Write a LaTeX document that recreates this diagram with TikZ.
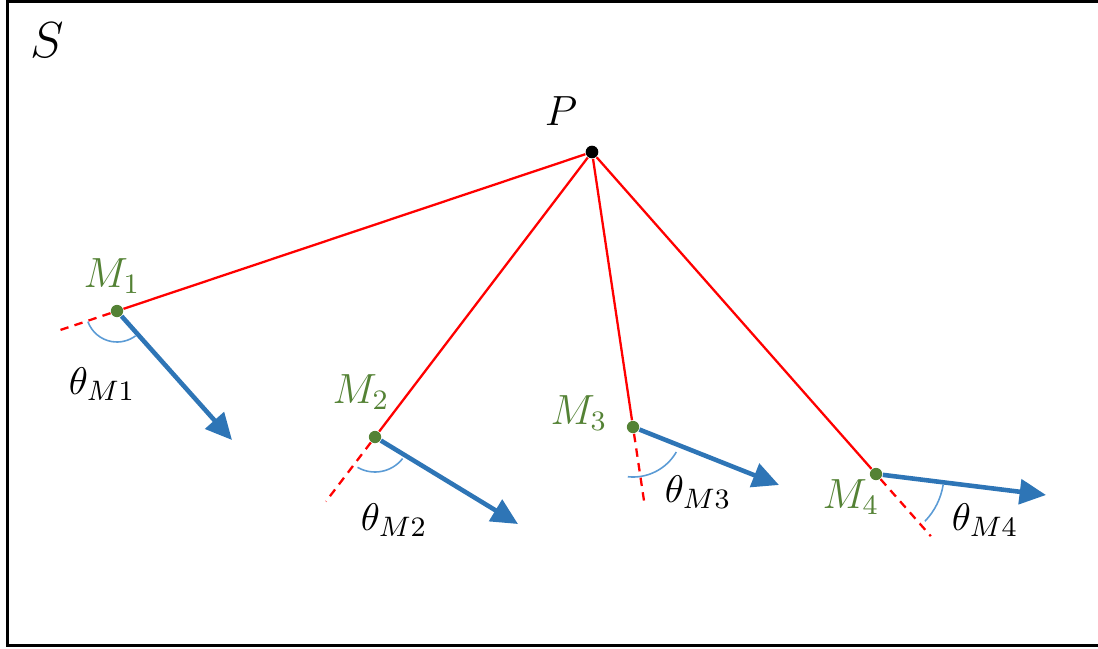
\documentclass[tikz,border=0pt]{standalone}
\usepackage{amsmath}
\usepackage{xcolor}
\usepackage{tikz}
\usetikzlibrary{arrows.meta,calc}
\definecolor{pred}{HTML}{FF0000}
\definecolor{pgreen}{HTML}{548235}
\definecolor{pblue}{HTML}{2E75B6}
\definecolor{parc}{HTML}{5B9BD5}
\tikzset{
  pray/.style={pred, line width=0.65pt},
  pext/.style={pred, line width=0.65pt, dash pattern=on 2.4pt off 1.8pt},
  pvel/.style={pblue, line width=1.3pt, -{Triangle[length=7.5pt,width=7pt]}},
  parcs/.style={parc, line width=0.45pt},
  pdot/.style={circle, fill=pgreen, inner sep=0pt, minimum size=3.5pt},
  pmark/.style={circle, fill=black, inner sep=0pt, minimum size=3.6pt},
  plbl/.style={pgreen, font=\fontsize{12}{14}\selectfont},
  pang/.style={black, font=\fontsize{11.2}{13}\selectfont},
}

\begin{document}
\begin{tikzpicture}[x=0.01cm, y=0.01cm]
  \useasboundingbox (0,0) rectangle (1098,648);

  % rahmen
  \draw[line width=1pt] (7.5,2.5) rectangle (1110,646.5);
  \node[font=\fontsize{13.5}{15}\selectfont] (S) at (47,608) {$S$};

  % punkte
  \node[pmark] (P)  at (592,496) {};
  \node[pdot]  (M1) at (117,337) {};
  \node[pdot]  (M2) at (375,211) {};
  \node[pdot]  (M3) at (633,221) {};
  \node[pdot]  (M4) at (876,174) {};

  % verbindungen zu P
  \draw[pray] (P) -- (M1);
  \draw[pray] (P) -- (M2);
  \draw[pray] (P) -- (M3);
  \draw[pray] (P) -- (M4);

  % verlaengerungen
  \coordinate (D1) at ($(P.center)!1.124!(M1.center)$);
  \coordinate (D2) at ($(P.center)!1.226!(M2.center)$);
  \coordinate (D3) at ($(P.center)!1.277!(M3.center)$);
  \coordinate (D4) at ($(P.center)!1.193!(M4.center)$);
  \draw[pext] (M1) -- (D1);
  \draw[pext] (M2) -- (D2);
  \draw[pext] (M3) -- (D3);
  \draw[pext] (M4) -- (D4);

  % geschwindigkeiten
  \coordinate (V1) at (232,208);
  \coordinate (V2) at (518,124);
  \coordinate (V3) at (779,163);
  \coordinate (V4) at (1046,153);
  \draw[pvel] (M1) -- (V1);
  \draw[pvel] (M2) -- (V2);
  \draw[pvel] (M3) -- (V3);
  \draw[pvel] (M4) -- (V4);

  % winkel
  \draw[parcs] ($(M1.center)+(200:31)$) arc[start angle=200, end angle=307, radius=31];
  \draw[parcs] ($(M2.center)+(240:35)$) arc[start angle=240, end angle=322, radius=35];
  \draw[parcs] ($(M3.center)+(264:50)$) arc[start angle=264, end angle=330, radius=50];
  \draw[parcs] ($(M4.center)+(316:68)$) arc[start angle=316, end angle=351, radius=68];

  % beschriftung
  \node[font=\fontsize{12.5}{14}\selectfont] (PL) at (561,537) {$P$};
  \node[plbl] (L1) at (112,372) {$M_1$};
  \node[plbl] (L2) at (361,256) {$M_2$};
  \node[plbl] (L3) at (579,235) {$M_3$};
  \node[plbl] (L4) at (851,151) {$M_4$};
  \node[pang] (T1) at (102,264) {$\theta_{M1}$};
  \node[pang] (T2) at (394,128) {$\theta_{M2}$};
  \node[pang] (T3) at (698,156) {$\theta_{M3}$};
  \node[pang] (T4) at (985,128) {$\theta_{M4}$};

\end{tikzpicture}
\end{document}
